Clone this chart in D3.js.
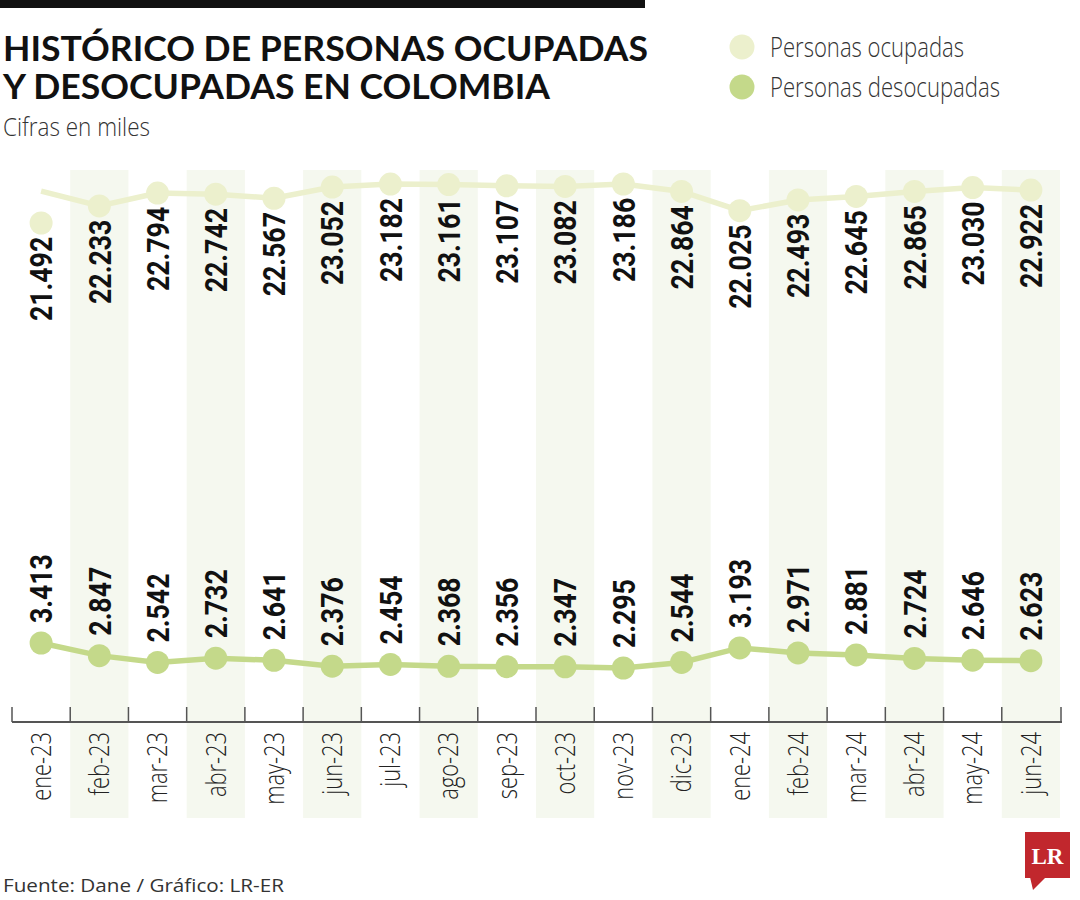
<!DOCTYPE html>
<html>
<head>
<meta charset="utf-8">
<script src="https://cdn.jsdelivr.net/npm/d3@7"></script>
<style>
  html, body { margin: 0; padding: 0; background: #fff; }
  svg { display: block; }
</style>
</head>
<body>
<svg id="chart" width="1080" height="900"></svg>
<script>
// ---- DATA ----
const months = ["ene-23","feb-23","mar-23","abr-23","may-23","jun-23","jul-23","ago-23","sep-23","oct-23","nov-23","dic-23","ene-24","feb-24","mar-24","abr-24","may-24","jun-24"];
const ocupadas = [21.492,22.233,22.794,22.742,22.567,23.052,23.182,23.161,23.107,23.082,23.186,22.864,22.025,22.493,22.645,22.865,23.030,22.922];
const desocupadas = [3.413,2.847,2.542,2.732,2.641,2.376,2.454,2.368,2.356,2.347,2.295,2.544,3.193,2.971,2.881,2.724,2.646,2.623];
// In the reference the "ocupadas" line's first vertex sits apart from the ene-23 dot
const ocupadasLineFirst = 22.88;
const seriesNames = ["Personas ocupadas", "Personas desocupadas"];
const title = ["HISTÓRICO DE PERSONAS OCUPADAS", "Y DESOCUPADAS EN COLOMBIA"];
const subtitle = "Cifras en miles";
const source = "Fuente: Dane / Gráfico: LR-ER";

// ---- STYLE ----
const colOcup = "#ecf0cd";
const colDesoc = "#c4d98a";
const bandCol = "#f5f8ef";
const boldNum = "Roboto, 'DejaVu Sans Condensed', sans-serif";
const lightFont = "'Open Sans', Roboto, sans-serif";

const svg = d3.select("#chart");

// condense a text horizontally to a fraction of its natural width
function condense(sel, factor) {
  sel.each(function () {
    const w = this.getComputedTextLength();
    d3.select(this).attr("textLength", w * factor).attr("lengthAdjust", "spacingAndGlyphs");
  });
  return sel;
}

const x = d3.scaleBand().domain(months).range([12, 1060]).padding(0);
const yTop = d3.scaleLinear().domain([21.492, 23.186]).range([223, 184]);
const yBot = d3.scaleLinear().domain([2.295, 3.413]).range([668, 643]);
const cx = m => x(m) + x.bandwidth() / 2;

// top bar
svg.append("rect").attr("x", 0).attr("y", 0).attr("width", 645).attr("height", 8).attr("fill", "#111");

// title
svg.append("text").attr("x", 3).attr("y", 61)
  .attr("font-family", "Lato, 'Open Sans', sans-serif").attr("font-weight", 700)
  .attr("font-size", 35).attr("fill", "#111")
  .attr("textLength", 645).attr("lengthAdjust", "spacingAndGlyphs")
  .text(title[0]);
svg.append("text").attr("x", 3).attr("y", 99)
  .attr("font-family", "Lato, 'Open Sans', sans-serif").attr("font-weight", 700)
  .attr("font-size", 35).attr("fill", "#111")
  .attr("textLength", 547).attr("lengthAdjust", "spacingAndGlyphs")
  .text(title[1]);
svg.append("text").attr("x", 3).attr("y", 136)
  .attr("font-family", lightFont).attr("font-weight", 300).attr("font-size", 25).attr("fill", "#333")
  .attr("textLength", 147).attr("lengthAdjust", "spacingAndGlyphs")
  .text(subtitle);

// legend
const legend = svg.append("g");
[colOcup, colDesoc].forEach((c, i) => {
  legend.append("circle").attr("cx", 742).attr("cy", 47 + i * 40).attr("r", 12.5).attr("fill", c);
  legend.append("text").attr("x", 770).attr("y", 57 + i * 40)
    .attr("font-family", lightFont).attr("font-weight", 300).attr("font-size", 28).attr("fill", "#333")
    .attr("textLength", i === 0 ? 194 : 230).attr("lengthAdjust", "spacingAndGlyphs")
    .text(seriesNames[i]);
});

// alternating bands
svg.append("g").selectAll("rect").data(months.filter((d, i) => i % 2 === 1)).join("rect")
  .attr("x", d => x(d)).attr("y", 170).attr("width", x.bandwidth()).attr("height", 648)
  .attr("fill", bandCol);

// axis
const axisG = svg.append("g").attr("transform", "translate(0,722)");
axisG.append("line").attr("x1", 12).attr("x2", 1062).attr("y1", 0).attr("y2", 0)
  .attr("stroke", "#555").attr("stroke-width", 2);
axisG.selectAll("line.tick").data(months.concat(["end"])).join("line").attr("class", "tick")
  .attr("x1", (d, i) => i < months.length ? x(d) : 1061)
  .attr("x2", (d, i) => i < months.length ? x(d) : 1061)
  .attr("y1", -15).attr("y2", 0).attr("stroke", "#555").attr("stroke-width", 1.5);
condense(axisG.selectAll("text").data(months).join("text")
  .attr("transform", d => `translate(${cx(d)},10) rotate(-90)`)
  .attr("text-anchor", "end").attr("dy", "0.35em")
  .attr("font-family", lightFont).attr("font-weight", 300).attr("font-size", 28).attr("fill", "#222")
  .text(d => d), 0.78);

// ocupadas line
const linePtsTop = ocupadas.map((v, i) => [cx(months[i]), yTop(i === 0 ? ocupadasLineFirst : v)]);
svg.append("path").attr("d", d3.line()(linePtsTop))
  .attr("fill", "none").attr("stroke", colOcup).attr("stroke-width", 5.5);
svg.append("g").selectAll("circle").data(ocupadas).join("circle")
  .attr("cx", (d, i) => cx(months[i])).attr("cy", d => yTop(d)).attr("r", 11.5).attr("fill", colOcup);
condense(svg.append("g").selectAll("text").data(ocupadas).join("text")
  .attr("transform", (d, i) => `translate(${cx(months[i])},${yTop(d) + 98}) rotate(-90)`)
  .attr("text-anchor", "start").attr("dy", "0.36em")
  .attr("font-family", boldNum).attr("font-weight", 700).attr("font-size", 31).attr("fill", "#111")
  .text(d => d3.format(".3f")(d)), 0.86);

// desocupadas line
const linePtsBot = desocupadas.map((v, i) => [cx(months[i]), yBot(v)]);
svg.append("path").attr("d", d3.line()(linePtsBot))
  .attr("fill", "none").attr("stroke", colDesoc).attr("stroke-width", 5.5);
svg.append("g").selectAll("circle").data(desocupadas).join("circle")
  .attr("cx", (d, i) => cx(months[i])).attr("cy", d => yBot(d)).attr("r", 11.5).attr("fill", colDesoc);
condense(svg.append("g").selectAll("text").data(desocupadas).join("text")
  .attr("transform", (d, i) => `translate(${cx(months[i])},${yBot(d) - 20}) rotate(-90)`)
  .attr("text-anchor", "start").attr("dy", "0.36em")
  .attr("font-family", boldNum).attr("font-weight", 700).attr("font-size", 31).attr("fill", "#111")
  .text(d => d3.format(".3f")(d)), 0.86);

// footer
svg.append("text").attr("x", 3).attr("y", 892)
  .attr("font-family", "'Open Sans', sans-serif").attr("font-weight", 400).attr("font-size", 19).attr("fill", "#333")
  .attr("textLength", 281).attr("lengthAdjust", "spacingAndGlyphs")
  .text(source);

// logo
const logo = svg.append("g");
logo.append("rect").attr("x", 1025).attr("y", 832).attr("width", 45).attr("height", 46).attr("fill", "#c1272d");
logo.append("path").attr("d", "M1030,877 L1046,877 L1033,890 Z").attr("fill", "#c1272d");
logo.append("text").attr("x", 1047.5).attr("y", 864).attr("text-anchor", "middle")
  .attr("font-family", "'Liberation Serif','DejaVu Serif',serif").attr("font-weight", 700)
  .attr("font-size", 23).attr("fill", "#fff").text("LR");
</script>
</body>
</html>
